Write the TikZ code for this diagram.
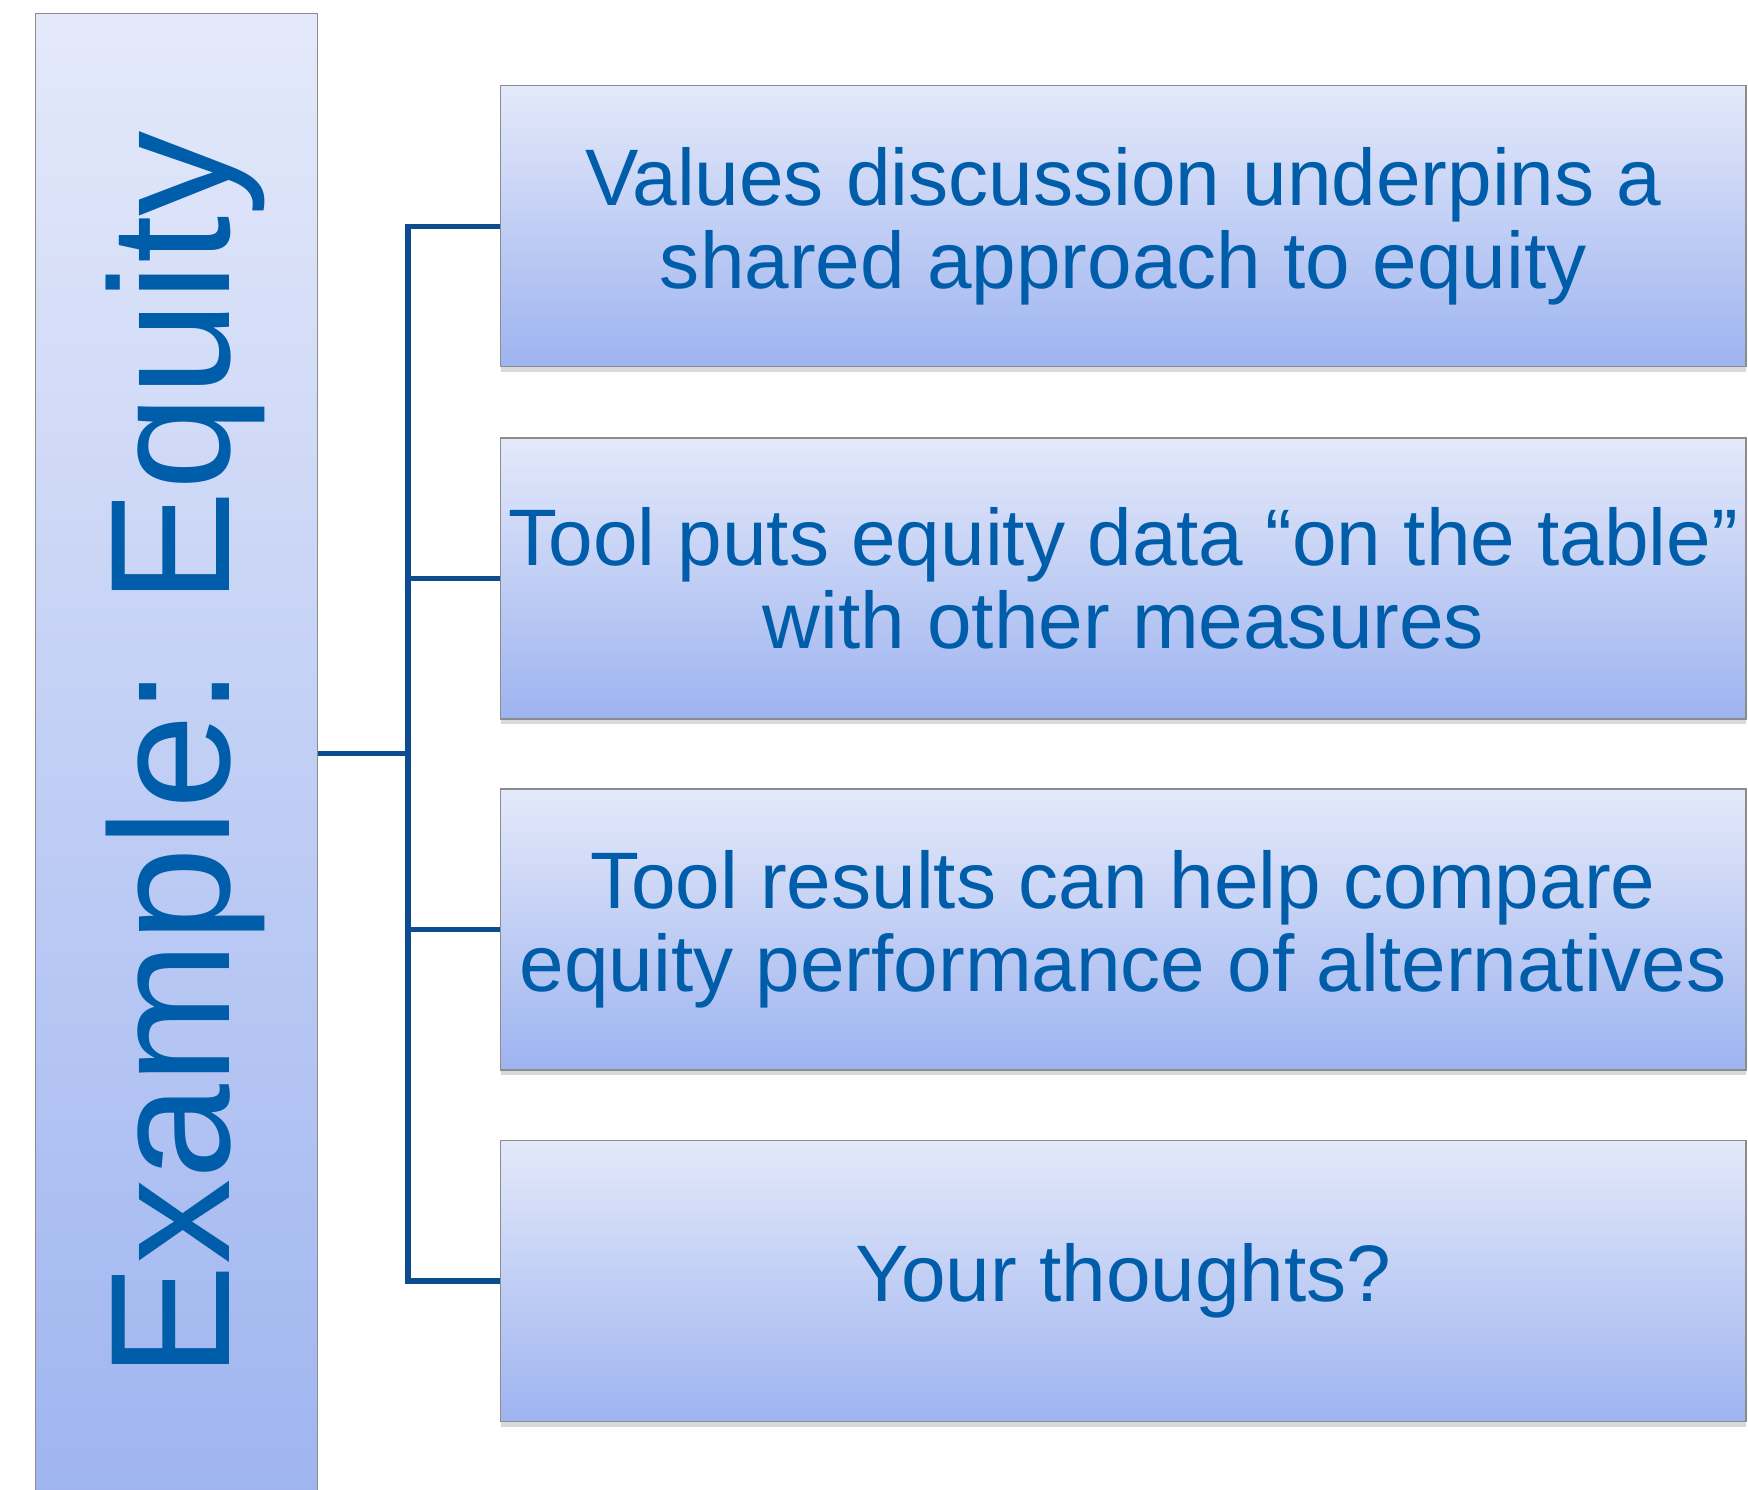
\documentclass[tikz,border=0pt]{standalone}
\usepackage{fontspec}
\setmainfont{Liberation Sans}
\usetikzlibrary{shadows}
\definecolor{textblue}{RGB}{0,93,170}
\definecolor{linkblue}{RGB}{14,76,144}
\definecolor{boxtop}{RGB}{228,233,250}
\definecolor{boxbottom}{RGB}{158,180,240}
\definecolor{edgegrey}{RGB}{140,140,140}

\begin{document}
\begin{tikzpicture}
% Box style
\tikzset{
    itembox/.style={draw=edgegrey, line width=0.6pt, top color=boxtop, bottom color=boxbottom,
        minimum width=24.91cm, minimum height=5.62cm, inner sep=0pt, align=center,
        text=textblue, font=\fontsize{45.6}{47.4}\selectfont,
        drop shadow={shadow xshift=0pt, shadow yshift=-3pt, opacity=0.3}},
    titlebar/.style={draw=edgegrey, line width=0.6pt, top color=boxtop, bottom color=boxbottom,
        minimum width=5.64cm, minimum height=30.23cm, inner sep=0pt},
    link/.style={draw=linkblue, line width=3pt}
}
\useasboundingbox (0,0) rectangle (34.96,-29.8);

% Nodes
\node[titlebar] (TB) at (3.534,-15.38) {};
\node[rotate=90, anchor=base, inner sep=0pt, text=textblue, font=\fontsize{97}{100}\selectfont] (EX) at (4.58,-15.09) {Example: Equity};

\node[itembox] (B1) at (22.465,-4.526) {Values discussion underpins a\\shared approach to equity};
\node[itembox] (B2) at (22.465,-11.57) {Tool puts equity data “on the table”\\with other measures};
\node[itembox] (B3) at (22.465,-18.59) {Tool results can help compare\\equity performance of alternatives};
\node[itembox] (B4) at (22.465,-25.62) {Your thoughts?};

% Connections
\coordinate (J) at (8.16,-15.07);
\draw[link] (TB.east |- J) -- (J);
\draw[link] (B1.west) -| (J) |- (B4.west);
\draw[link] (B2.west) -- (B2.west -| J);
\draw[link] (B3.west) -- (B3.west -| J);
\end{tikzpicture}
\end{document}
